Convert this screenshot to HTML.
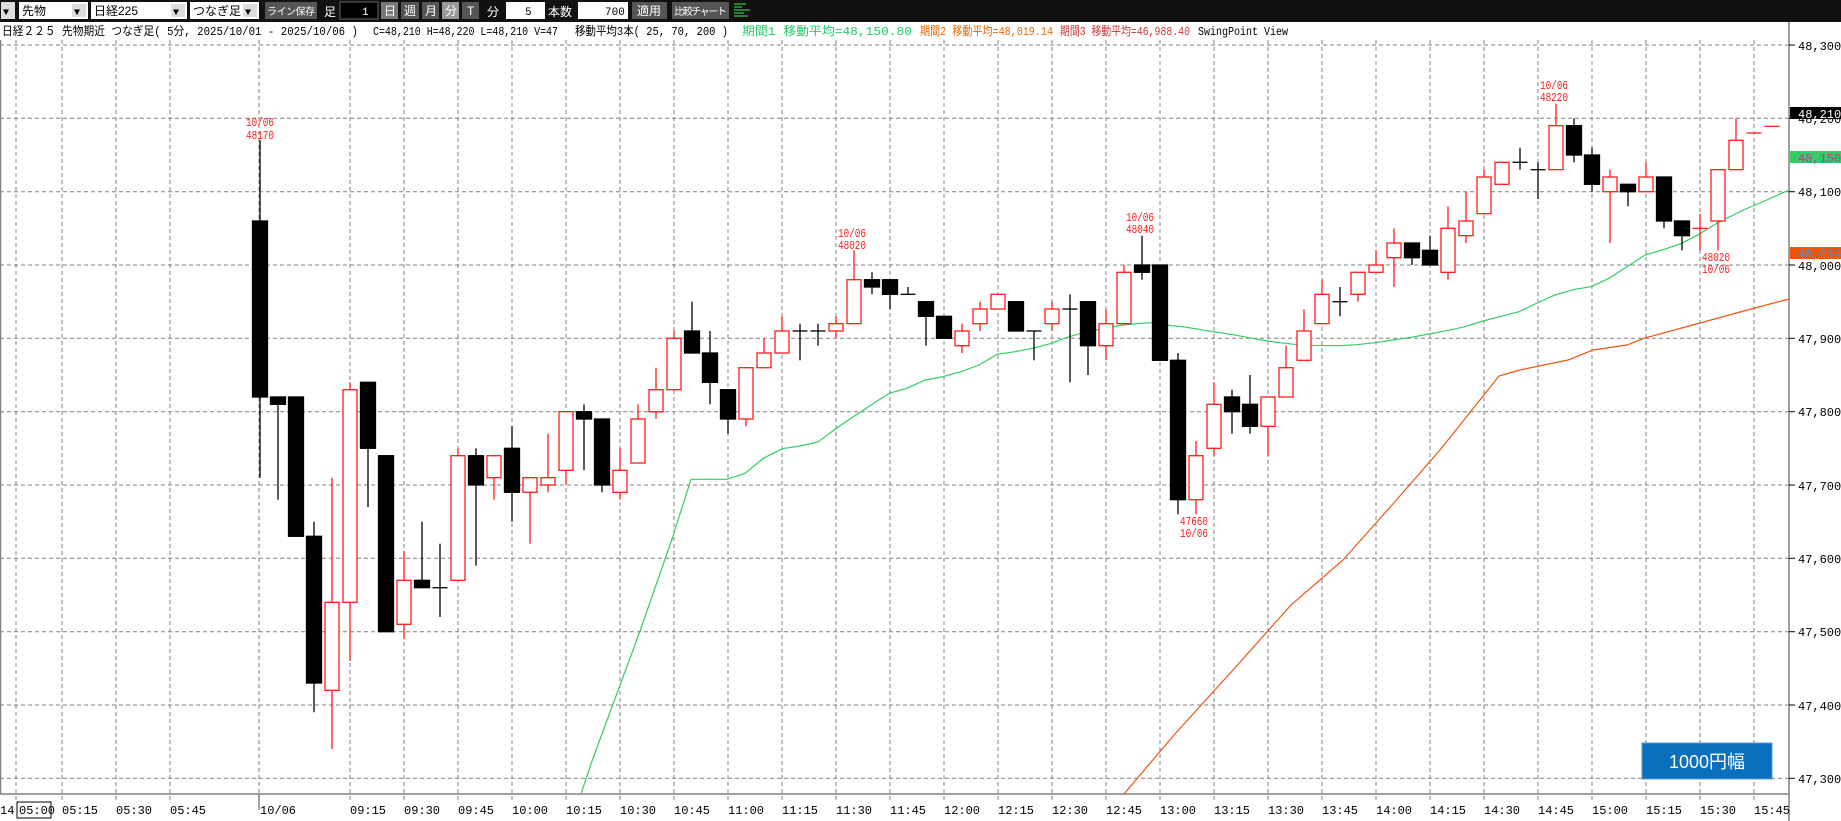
<!DOCTYPE html>
<html><head><meta charset="utf-8"><style>
html,body{margin:0;padding:0;background:#fff;width:1841px;height:821px;overflow:hidden}
svg{display:block}
text{font-family:"Liberation Mono","Noto Sans CJK JP",monospace}
.j{font-family:"Liberation Sans","Noto Sans CJK JP",sans-serif}
</style></head><body>
<svg width="1841" height="821" viewBox="0 0 1841 821" xmlns="http://www.w3.org/2000/svg">
<!-- toolbar -->
<rect x="0" y="0" width="1841" height="22" fill="#111"/>
<g font-size="12" class="j">
<rect x="1" y="2" width="14" height="17" fill="#ddd"/><text x="3" y="15" font-size="10" fill="#000">▼</text>
<rect x="19" y="2" width="69" height="17" fill="#fff"/><text x="22" y="15" class="j" fill="#000">先物</text><rect x="72" y="4" width="14" height="13" fill="#ddd"/><text x="74" y="15" font-size="10">▼</text>
<rect x="91" y="2" width="96" height="17" fill="#fff"/><text x="94" y="15" class="j">日経225</text><rect x="171" y="4" width="14" height="13" fill="#ddd"/><text x="173" y="15" font-size="10">▼</text>
<rect x="190" y="2" width="69" height="17" fill="#fff"/><text x="193" y="15" class="j">つなぎ足</text><rect x="243" y="4" width="14" height="13" fill="#ddd"/><text x="245" y="15" font-size="10">▼</text>
<rect x="265" y="2" width="52" height="17" fill="#555"/><text x="267" y="15" class="j" fill="#fff" font-size="10" textLength="48">ライン保存</text>
<text x="324" y="16" class="j" fill="#fff">足</text>
<rect x="340" y="2" width="38" height="17" fill="#000" stroke="#666"/><text x="362" y="15" fill="#fff" font-size="11">1</text>
<rect x="381" y="2" width="17" height="17" fill="#777"/><text x="384" y="15" class="j" fill="#fff">日</text>
<rect x="401" y="2" width="18" height="17" fill="#555"/><text x="404" y="15" class="j" fill="#fff">週</text>
<rect x="422" y="2" width="17" height="17" fill="#555"/><text x="425" y="15" class="j" fill="#fff">月</text>
<rect x="442" y="2" width="17" height="17" fill="#999"/><text x="445" y="15" class="j" fill="#fff">分</text>
<rect x="462" y="2" width="17" height="17" fill="#555"/><text x="467" y="15" class="j" fill="#fff">T</text>
<text x="487" y="16" class="j" fill="#fff">分</text>
<rect x="506" y="2" width="39" height="17" fill="#fff"/><text x="525" y="15" font-size="11">5</text>
<text x="548" y="16" class="j" fill="#fff">本数</text>
<rect x="578" y="2" width="50" height="17" fill="#fff"/><text x="605" y="15" font-size="11">700</text>
<rect x="632" y="2" width="35" height="17" fill="#555"/><text x="637" y="15" class="j" fill="#fff">適用</text>
<rect x="672" y="2" width="57" height="17" fill="#555"/><text x="674" y="15" class="j" fill="#fff" font-size="10" textLength="53">比較チャート</text>
<g stroke="#3c3" stroke-width="1.2"><line x1="734" y1="4" x2="746" y2="4"/><line x1="734" y1="7" x2="742" y2="7"/><line x1="734" y1="10" x2="750" y2="10"/><line x1="734" y1="13" x2="744" y2="13"/><line x1="734" y1="16" x2="748" y2="16"/></g>
</g>
<!-- info line -->
<g font-size="12">
<text x="2" y="35" fill="#000" textLength="356" lengthAdjust="spacingAndGlyphs">日経２２５ 先物期近 つなぎ足( 5分, 2025/10/01 - 2025/10/06 )</text>
<text x="373" y="35" fill="#000" textLength="185" lengthAdjust="spacingAndGlyphs">C=48,210 H=48,220 L=48,210 V=47</text>
<text x="575" y="35" fill="#000" textLength="153" lengthAdjust="spacingAndGlyphs">移動平均3本( 25, 70, 200 )</text>
<text x="742" y="35" fill="#2c6" textLength="170" lengthAdjust="spacingAndGlyphs">期間1 移動平均=48,150.80</text>
<text x="920" y="35" fill="#e60" textLength="133" lengthAdjust="spacingAndGlyphs">期間2 移動平均=48,019.14</text>
<text x="1060" y="35" fill="#c33" textLength="130" lengthAdjust="spacingAndGlyphs">期間3 移動平均=46,988.40</text>
<text x="1198" y="35" fill="#000" textLength="90" lengthAdjust="spacingAndGlyphs">SwingPoint View</text>
</g>
<!-- grid -->
<g stroke="#808080" stroke-width="1" stroke-dasharray="4,3">
<line x1="0" y1="45" x2="1789" y2="45"/><line x1="0" y1="118.3" x2="1789" y2="118.3"/><line x1="0" y1="191.7" x2="1789" y2="191.7"/><line x1="0" y1="265" x2="1789" y2="265"/><line x1="0" y1="338.3" x2="1789" y2="338.3"/><line x1="0" y1="411.7" x2="1789" y2="411.7"/><line x1="0" y1="485" x2="1789" y2="485"/><line x1="0" y1="558.3" x2="1789" y2="558.3"/><line x1="0" y1="631.7" x2="1789" y2="631.7"/><line x1="0" y1="705" x2="1789" y2="705"/><line x1="0" y1="778.3" x2="1789" y2="778.3"/>
<line x1="16" y1="40" x2="16" y2="800"/><line x1="62" y1="40" x2="62" y2="800"/><line x1="116" y1="40" x2="116" y2="800"/><line x1="170" y1="40" x2="170" y2="800"/><line x1="259" y1="40" x2="259" y2="794"/>
<line x1="350" y1="40" x2="350" y2="800"/><line x1="404" y1="40" x2="404" y2="800"/><line x1="458" y1="40" x2="458" y2="800"/><line x1="512" y1="40" x2="512" y2="800"/><line x1="566" y1="40" x2="566" y2="800"/><line x1="620" y1="40" x2="620" y2="800"/><line x1="674" y1="40" x2="674" y2="800"/><line x1="728" y1="40" x2="728" y2="800"/><line x1="782" y1="40" x2="782" y2="800"/><line x1="836" y1="40" x2="836" y2="800"/><line x1="890" y1="40" x2="890" y2="800"/><line x1="944" y1="40" x2="944" y2="800"/><line x1="998" y1="40" x2="998" y2="800"/><line x1="1052" y1="40" x2="1052" y2="800"/><line x1="1106" y1="40" x2="1106" y2="800"/><line x1="1160" y1="40" x2="1160" y2="800"/><line x1="1214" y1="40" x2="1214" y2="800"/><line x1="1268" y1="40" x2="1268" y2="800"/><line x1="1322" y1="40" x2="1322" y2="800"/><line x1="1376" y1="40" x2="1376" y2="800"/><line x1="1430" y1="40" x2="1430" y2="800"/><line x1="1484" y1="40" x2="1484" y2="800"/><line x1="1538" y1="40" x2="1538" y2="800"/><line x1="1592" y1="40" x2="1592" y2="800"/><line x1="1646" y1="40" x2="1646" y2="800"/><line x1="1700" y1="40" x2="1700" y2="800"/><line x1="1754" y1="40" x2="1754" y2="800"/>
</g>
<g stroke="#808080" stroke-width="1.5">
<line x1="0.5" y1="40" x2="0.5" y2="794"/><line x1="0" y1="794" x2="1789" y2="794"/><line x1="1789" y1="22" x2="1789" y2="821"/><line x1="259" y1="794" x2="259" y2="810"/>
</g>
<!-- MAs -->
<polyline fill="none" stroke="#33cc66" stroke-width="1.2" points="581,794 592,761 640,631 671.7,540 691,479.3 727,479.3 745,473.3 763.3,458.3 782.3,448.7 800,446 818,442 835,429.3 853.3,416.7 871,405 889.3,393.3 906.7,388.3 925,380 943,376.7 961,371.7 979,365 997,354.3 1015,351.7 1033,348.3 1051.3,343.3 1069.3,336.7 1087,331.7 1105,328.3 1123,325 1141,323.3 1150,322.7 1166.7,325 1186.7,327.3 1213,331.7 1231,334.3 1249,337.7 1267,341 1285,343.3 1303,345.3 1339,345.7 1357,344.7 1375,342.7 1393,340 1411,337.3 1429,334 1447,330.7 1465,326.7 1483,321 1501,316.3 1519,311.7 1537,303 1555,295 1573,289.7 1591,286.7 1609,278.3 1627,266.7 1645,255 1663,249.7 1681,243.7 1699,234.3 1716.7,223.3 1743.3,210 1766.7,200 1789,190"/>
<polyline fill="none" stroke="#ee5511" stroke-width="1.2" points="1124,794 1174,735 1233,670 1291,605 1343,560 1392,505 1440,450 1499,376 1520,370 1568,360 1593,350 1627,345 1645,338 1700,323 1740,312 1789,299"/>
<!-- candles -->
<g stroke="#000" stroke-width="1.3" fill="#000">
<line x1="260" y1="140.3" x2="260" y2="477.7"/><rect x="252.5" y="221" width="15" height="176"/>
<line x1="278" y1="397" x2="278" y2="499.7"/><rect x="270.5" y="397" width="15" height="7.3"/>
<rect x="288.5" y="397" width="15" height="139.3"/>
<line x1="314" y1="521.7" x2="314" y2="712.3"/><rect x="306.5" y="536.3" width="15" height="146.7"/>
<line x1="368" y1="382.3" x2="368" y2="507"/><rect x="360.5" y="382.3" width="15" height="66"/>
<rect x="378.5" y="455.7" width="15" height="176"/>
<line x1="422" y1="521.7" x2="422" y2="587.7"/><rect x="414.5" y="580.3" width="15" height="7.4"/>
<line x1="440" y1="543.7" x2="440" y2="617"/><line x1="432.5" y1="587.7" x2="447.5" y2="587.7"/>
<line x1="476" y1="448.3" x2="476" y2="565.7"/><rect x="468.5" y="455.7" width="15" height="29.3"/>
<line x1="512" y1="426.3" x2="512" y2="521.7"/><rect x="504.5" y="448.3" width="15" height="44"/>
<line x1="584" y1="404.3" x2="584" y2="470.3"/><rect x="576.5" y="411.7" width="15" height="7.3"/>
<line x1="602" y1="419" x2="602" y2="492.3"/><rect x="594.5" y="419" width="15" height="66"/>
<line x1="692" y1="301.7" x2="692" y2="353"/><rect x="684.5" y="331" width="15" height="22"/>
<line x1="710" y1="331" x2="710" y2="404.3"/><rect x="702.5" y="353" width="15" height="29.3"/>
<line x1="728" y1="389.7" x2="728" y2="433.7"/><rect x="720.5" y="389.7" width="15" height="29.3"/>
<line x1="800" y1="323.7" x2="800" y2="360.3"/><line x1="792.5" y1="331" x2="807.5" y2="331"/>
<line x1="818" y1="323.7" x2="818" y2="345.7"/><line x1="810.5" y1="331" x2="825.5" y2="331"/>
<line x1="872" y1="272.3" x2="872" y2="294.3"/><rect x="864.5" y="279.7" width="15" height="7.3"/>
<line x1="890" y1="279.7" x2="890" y2="309"/><rect x="882.5" y="279.7" width="15" height="14.6"/>
<line x1="908" y1="287" x2="908" y2="294.3"/><line x1="900.5" y1="294.3" x2="915.5" y2="294.3"/>
<line x1="926" y1="301.7" x2="926" y2="345.7"/><rect x="918.5" y="301.7" width="15" height="14.6"/>
<rect x="936.5" y="316.3" width="15" height="22"/>
<rect x="1008.5" y="301.7" width="15" height="29.3"/>
<line x1="1034" y1="331" x2="1034" y2="360.3"/><line x1="1026.5" y1="331" x2="1041.5" y2="331"/>
<line x1="1070" y1="294.3" x2="1070" y2="382.3"/><line x1="1062.5" y1="309" x2="1077.5" y2="309"/>
<line x1="1088" y1="301.7" x2="1088" y2="375"/><rect x="1080.5" y="301.7" width="15" height="44"/>
<line x1="1142" y1="235.7" x2="1142" y2="279.7"/><rect x="1134.5" y="265" width="15" height="7.3"/>
<rect x="1152.5" y="265" width="15" height="95.3"/>
<line x1="1178" y1="353" x2="1178" y2="514.3"/><rect x="1170.5" y="360.3" width="15" height="139.4"/>
<line x1="1232" y1="389.7" x2="1232" y2="433.7"/><rect x="1224.5" y="397" width="15" height="14.7"/>
<line x1="1250" y1="375" x2="1250" y2="433.7"/><rect x="1242.5" y="404.3" width="15" height="22"/>
<line x1="1340" y1="287" x2="1340" y2="316.3"/><line x1="1332.5" y1="301.7" x2="1347.5" y2="301.7"/>
<line x1="1412" y1="243" x2="1412" y2="265"/><rect x="1404.5" y="243" width="15" height="14.7"/>
<line x1="1430" y1="235.7" x2="1430" y2="265"/><rect x="1422.5" y="250.3" width="15" height="14.7"/>
<line x1="1520" y1="147.7" x2="1520" y2="169.7"/><line x1="1512.5" y1="162.3" x2="1527.5" y2="162.3"/>
<line x1="1538" y1="162.3" x2="1538" y2="199"/><line x1="1530.5" y1="169.7" x2="1545.5" y2="169.7"/>
<line x1="1574" y1="118.3" x2="1574" y2="162.3"/><rect x="1566.5" y="125.7" width="15" height="29.3"/>
<line x1="1592" y1="147.7" x2="1592" y2="191.7"/><rect x="1584.5" y="155" width="15" height="29.3"/>
<line x1="1628" y1="184.3" x2="1628" y2="206.3"/><rect x="1620.5" y="184.3" width="15" height="7.4"/>
<line x1="1664" y1="177" x2="1664" y2="228.3"/><rect x="1656.5" y="177" width="15" height="44"/>
<line x1="1682" y1="221" x2="1682" y2="250.3"/><rect x="1674.5" y="221" width="15" height="14.7"/>
</g>
<g stroke="#ff1a1a" stroke-width="1.3" fill="#fff">
<line x1="332" y1="477.7" x2="332" y2="749"/><rect x="325" y="602.3" width="14" height="88"/>
<line x1="350" y1="382.3" x2="350" y2="661"/><rect x="343" y="389.7" width="14" height="212.6"/>
<line x1="404" y1="551" x2="404" y2="639"/><rect x="397" y="580.3" width="14" height="44"/>
<line x1="458" y1="448.3" x2="458" y2="580.3"/><rect x="451" y="455.7" width="14" height="124.6"/>
<line x1="494" y1="455.7" x2="494" y2="499.7"/><rect x="487" y="455.7" width="14" height="22"/>
<line x1="530" y1="477.7" x2="530" y2="543.7"/><rect x="523" y="477.7" width="14" height="14.6"/>
<line x1="548" y1="433.7" x2="548" y2="492.3"/><rect x="541" y="477.7" width="14" height="7.3"/>
<line x1="566" y1="411.7" x2="566" y2="485"/><rect x="559" y="411.7" width="14" height="58.6"/>
<line x1="620" y1="448.3" x2="620" y2="499.7"/><rect x="613" y="470.3" width="14" height="22"/>
<line x1="638" y1="404.3" x2="638" y2="463"/><rect x="631" y="419" width="14" height="44"/>
<line x1="656" y1="367.7" x2="656" y2="419"/><rect x="649" y="389.7" width="14" height="22"/>
<line x1="674" y1="331" x2="674" y2="389.7"/><rect x="667" y="338.3" width="14" height="51.4"/>
<line x1="746" y1="367.7" x2="746" y2="426.3"/><rect x="739" y="367.7" width="14" height="51.3"/>
<line x1="764" y1="338.3" x2="764" y2="367.7"/><rect x="757" y="353" width="14" height="14.7"/>
<line x1="782" y1="316.3" x2="782" y2="353"/><rect x="775" y="331" width="14" height="22"/>
<line x1="836" y1="316.3" x2="836" y2="338.3"/><rect x="829" y="323.7" width="14" height="7.3"/>
<line x1="854" y1="250.3" x2="854" y2="323.7"/><rect x="847" y="279.7" width="14" height="44"/>
<line x1="962" y1="323.7" x2="962" y2="353"/><rect x="955" y="331" width="14" height="14.7"/>
<line x1="980" y1="301.7" x2="980" y2="331"/><rect x="973" y="309" width="14" height="14.7"/>
<rect x="991" y="294.3" width="14" height="14.7"/>
<line x1="1052" y1="301.7" x2="1052" y2="331"/><rect x="1045" y="309" width="14" height="14.7"/>
<line x1="1106" y1="309" x2="1106" y2="360.3"/><rect x="1099" y="323.7" width="14" height="22"/>
<line x1="1124" y1="265" x2="1124" y2="323.7"/><rect x="1117" y="272.3" width="14" height="51.4"/>
<line x1="1196" y1="441" x2="1196" y2="514.3"/><rect x="1189" y="455.7" width="14" height="44"/>
<line x1="1214" y1="382.3" x2="1214" y2="455.7"/><rect x="1207" y="404.3" width="14" height="44"/>
<line x1="1268" y1="397" x2="1268" y2="455.7"/><rect x="1261" y="397" width="14" height="29.3"/>
<line x1="1286" y1="345.7" x2="1286" y2="397"/><rect x="1279" y="367.7" width="14" height="29.3"/>
<line x1="1304" y1="309" x2="1304" y2="360.3"/><rect x="1297" y="331" width="14" height="29.3"/>
<line x1="1322" y1="279.7" x2="1322" y2="323.7"/><rect x="1315" y="294.3" width="14" height="29.4"/>
<line x1="1358" y1="272.3" x2="1358" y2="301.7"/><rect x="1351" y="272.3" width="14" height="22"/>
<line x1="1376" y1="250.3" x2="1376" y2="272.3"/><rect x="1369" y="265" width="14" height="7.3"/>
<line x1="1394" y1="228.3" x2="1394" y2="287"/><rect x="1387" y="243" width="14" height="14.7"/>
<line x1="1448" y1="206.3" x2="1448" y2="279.7"/><rect x="1441" y="228.3" width="14" height="44"/>
<line x1="1466" y1="191.7" x2="1466" y2="243"/><rect x="1459" y="221" width="14" height="14.7"/>
<line x1="1484" y1="169.7" x2="1484" y2="213.7"/><rect x="1477" y="177" width="14" height="36.7"/>
<rect x="1495" y="162.3" width="14" height="22"/>
<line x1="1556" y1="103.7" x2="1556" y2="169.7"/><rect x="1549" y="125.7" width="14" height="44"/>
<line x1="1610" y1="169.7" x2="1610" y2="243"/><rect x="1603" y="177" width="14" height="14.7"/>
<line x1="1646" y1="162.3" x2="1646" y2="191.7"/><rect x="1639" y="177" width="14" height="14.7"/>
<line x1="1700" y1="213.7" x2="1700" y2="250.3"/><line x1="1692.5" y1="228.3" x2="1707.5" y2="228.3"/>
<line x1="1718" y1="221" x2="1718" y2="250.3"/><rect x="1711" y="169.7" width="14" height="51.3"/>
<line x1="1736" y1="118.3" x2="1736" y2="140.3"/><rect x="1729" y="140.3" width="14" height="29.4"/>
<line x1="1746.5" y1="133" x2="1761.5" y2="133"/>
<line x1="1764.5" y1="126.3" x2="1779.5" y2="126.3"/>
</g>
<!-- swing labels -->
<g fill="#ff1a1a" font-size="12" text-anchor="middle">
<text x="260" y="126" textLength="28" lengthAdjust="spacingAndGlyphs">10/06</text><text x="260" y="139" textLength="28" lengthAdjust="spacingAndGlyphs">48170</text>
<text x="852" y="237" textLength="28" lengthAdjust="spacingAndGlyphs">10/06</text><text x="852" y="249" textLength="28" lengthAdjust="spacingAndGlyphs">48020</text>
<text x="1140" y="221" textLength="28" lengthAdjust="spacingAndGlyphs">10/06</text><text x="1140" y="233" textLength="28" lengthAdjust="spacingAndGlyphs">48040</text>
<text x="1194" y="525" textLength="28" lengthAdjust="spacingAndGlyphs">47660</text><text x="1194" y="537" textLength="28" lengthAdjust="spacingAndGlyphs">10/06</text>
<text x="1554" y="89" textLength="28" lengthAdjust="spacingAndGlyphs">10/06</text><text x="1554" y="101" textLength="28" lengthAdjust="spacingAndGlyphs">48220</text>
<text x="1716" y="261" textLength="28" lengthAdjust="spacingAndGlyphs">48020</text><text x="1716" y="273" textLength="28" lengthAdjust="spacingAndGlyphs">10/06</text>
</g>
<!-- right axis -->
<g stroke="#000" stroke-width="1"><line x1="1789" y1="45" x2="1795" y2="45"/><line x1="1789" y1="118.3" x2="1795" y2="118.3"/><line x1="1789" y1="191.7" x2="1795" y2="191.7"/><line x1="1789" y1="265" x2="1795" y2="265"/><line x1="1789" y1="338.3" x2="1795" y2="338.3"/><line x1="1789" y1="411.7" x2="1795" y2="411.7"/><line x1="1789" y1="485" x2="1795" y2="485"/><line x1="1789" y1="558.3" x2="1795" y2="558.3"/><line x1="1789" y1="631.7" x2="1795" y2="631.7"/><line x1="1789" y1="705" x2="1795" y2="705"/><line x1="1789" y1="778.3" x2="1795" y2="778.3"/></g>
<g font-size="12" fill="#000">
<text x="1798" y="50">48,300.0</text><text x="1798" y="123">48,200.0</text><text x="1798" y="196">48,100.0</text><text x="1798" y="270">48,000.0</text><text x="1798" y="343">47,900.0</text><text x="1798" y="416">47,800.0</text><text x="1798" y="490">47,700.0</text><text x="1798" y="563">47,600.0</text><text x="1798" y="636">47,500.0</text><text x="1798" y="710">47,400.0</text><text x="1798" y="783">47,300.0</text>
</g>
<rect x="1790" y="107" width="51" height="12" fill="#000"/><text x="1798" y="118" font-size="12" fill="#fff">48,210</text>
<rect x="1790" y="151" width="51" height="12" fill="#33cc66"/><text x="1798" y="162" font-size="12" fill="#cc3399">48,150.8</text>
<rect x="1790" y="247" width="51" height="12" fill="#ee5500"/><text x="1798" y="258" font-size="12" fill="#3399ff">48,019.1</text>
<!-- time labels -->
<g font-size="12" fill="#000">
<text x="0" y="814">14</text><rect x="17" y="802" width="34" height="16" fill="none" stroke="#000"/><text x="19" y="814">05:00</text>
<text x="62" y="814">05:15</text><text x="116" y="814">05:30</text><text x="170" y="814">05:45</text><text x="260" y="814">10/06</text>
<text x="350" y="814">09:15</text><text x="404" y="814">09:30</text><text x="458" y="814">09:45</text><text x="512" y="814">10:00</text><text x="566" y="814">10:15</text><text x="620" y="814">10:30</text><text x="674" y="814">10:45</text><text x="728" y="814">11:00</text><text x="782" y="814">11:15</text><text x="836" y="814">11:30</text><text x="890" y="814">11:45</text><text x="944" y="814">12:00</text><text x="998" y="814">12:15</text><text x="1052" y="814">12:30</text><text x="1106" y="814">12:45</text><text x="1160" y="814">13:00</text><text x="1214" y="814">13:15</text><text x="1268" y="814">13:30</text><text x="1322" y="814">13:45</text><text x="1376" y="814">14:00</text><text x="1430" y="814">14:15</text><text x="1484" y="814">14:30</text><text x="1538" y="814">14:45</text><text x="1592" y="814">15:00</text><text x="1646" y="814">15:15</text><text x="1700" y="814">15:30</text><text x="1754" y="814">15:45</text>
</g>
<!-- button -->
<rect x="1642" y="743" width="130" height="36" fill="#0a6fbd" stroke="#5a9bd0"/>
<text x="1707" y="768" text-anchor="middle" class="j" font-size="18" fill="#fff">1000円幅</text>
</svg>
</body></html>
